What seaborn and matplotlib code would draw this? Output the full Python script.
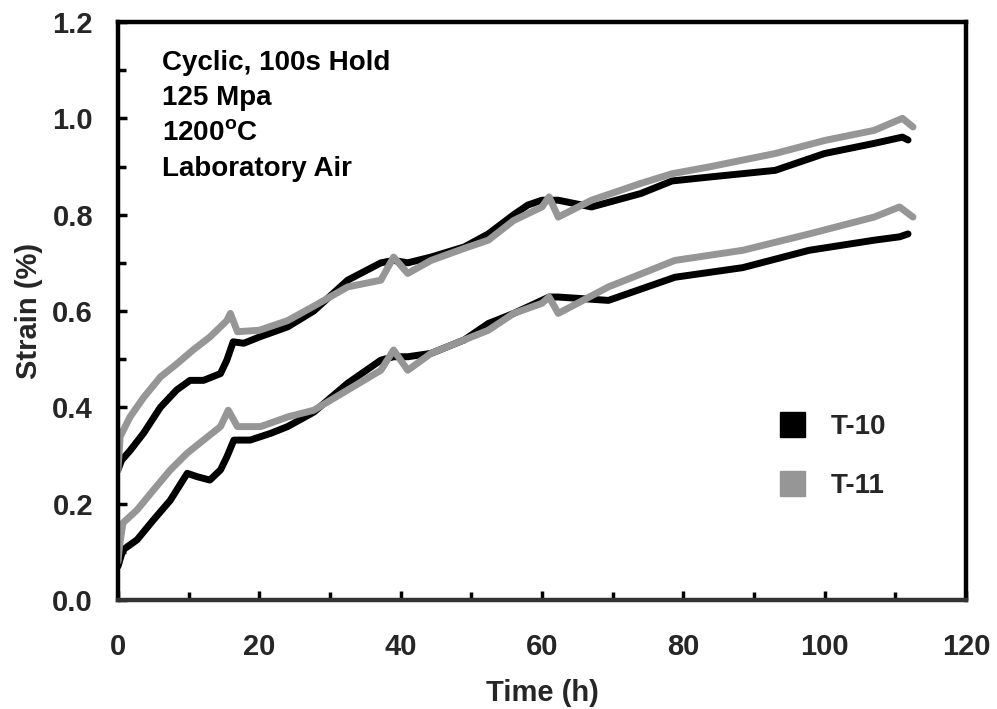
import matplotlib
matplotlib.use("Agg")
import matplotlib.pyplot as plt
import seaborn as sns
import numpy as np
import pandas as pd
from matplotlib.lines import Line2D
from matplotlib.ticker import MultipleLocator

# ---- data ----
t10_up_t = [0, 0.5, 1.7, 3.6, 6, 8.3, 10.2, 12.1, 14.5, 15.4, 16.3, 17.8, 20, 24, 27.7, 32.5,
            37.2, 39, 41, 44.3, 49, 52.4, 56, 58, 60, 62.3, 67, 74, 78.4, 83.6, 93, 100, 107, 111, 111.8]
t10_up_y = [0.27, 0.29, 0.31, 0.346, 0.40, 0.436, 0.456, 0.456, 0.47, 0.498, 0.536, 0.533, 0.546,
            0.567, 0.60, 0.664, 0.70, 0.705, 0.70, 0.712, 0.733, 0.76, 0.80, 0.82, 0.83, 0.83, 0.816,
            0.844, 0.87, 0.878, 0.892, 0.927, 0.948, 0.961, 0.955]

t11_up_t = [0, 0.3, 1.7, 3.6, 6, 8.3, 10.7, 13, 15.4, 15.9, 16.9, 20, 24, 27.7, 32.5, 37.2, 39, 41,
            44.3, 49, 52.4, 56, 60, 61, 62.3, 67, 74, 78.4, 83.6, 93, 100, 107, 111, 112.5]
t11_up_y = [0.27, 0.339, 0.38, 0.42, 0.463, 0.49, 0.52, 0.546, 0.58, 0.595, 0.557, 0.56, 0.58,
            0.61, 0.65, 0.664, 0.712, 0.678, 0.705, 0.73, 0.747, 0.788, 0.816, 0.837, 0.795, 0.83,
            0.865, 0.885, 0.899, 0.927, 0.954, 0.975, 1.0, 0.982]

t10_lo_t = [0, 0.7, 2.7, 5, 7.4, 9.8, 11.2, 13, 14.5, 15.4, 16.4, 18.7, 21.6, 24, 27.7, 32.5, 37.2,
            39, 41, 44.3, 49, 52.4, 56, 61, 62.3, 69.4, 78.8, 88.4, 97.8, 107, 110.6, 111.8]
t10_lo_y = [0.07, 0.104, 0.125, 0.166, 0.207, 0.263, 0.256, 0.249, 0.27, 0.297, 0.332, 0.332, 0.346,
            0.36, 0.39, 0.45, 0.498, 0.505, 0.505, 0.512, 0.54, 0.574, 0.595, 0.629, 0.629, 0.622,
            0.67, 0.69, 0.726, 0.747, 0.754, 0.76]

t11_lo_t = [0, 0.2, 0.7, 2.7, 5, 7.4, 9.8, 12.1, 14.5, 15.6, 16.9, 20.2, 24, 27.7, 32.5, 37.2, 39,
            41, 44.3, 49, 52.4, 56, 60, 61, 62.3, 69.4, 78.8, 88.4, 97.8, 107, 110.6, 112.5]
t11_lo_y = [0.08, 0.11, 0.16, 0.187, 0.228, 0.27, 0.305, 0.332, 0.36, 0.394, 0.36, 0.36, 0.38,
            0.394, 0.436, 0.477, 0.519, 0.477, 0.512, 0.54, 0.56, 0.595, 0.616, 0.629, 0.595, 0.65,
            0.705, 0.726, 0.76, 0.795, 0.816, 0.795]

series_names = ["T-10", "T-11"]
series_colors = ["#000000", "#969696"]
x_ticks = [0, 20, 40, 60, 80, 100, 120]
y_ticks = [0.0, 0.2, 0.4, 0.6, 0.8, 1.0, 1.2]
notes = ["Cyclic, 100s Hold", "125 Mpa", "1200$^\\mathbf{o}$C", "Laboratory Air"]

sns.set_theme(style="white")
plt.rcParams['font.family'] = ['Liberation Sans', 'DejaVu Sans']
plt.rcParams['font.weight'] = 'bold'
plt.rcParams['mathtext.fontset'] = 'custom'
plt.rcParams['mathtext.bf'] = 'Liberation Sans:bold'
plt.rcParams['mathtext.rm'] = 'Liberation Sans:bold'

fig = plt.figure(figsize=(9.97, 7.09), dpi=100)
ax = fig.add_axes([118/997, 1-600/709, (966-118)/997, (600-22)/709])

lw = 5
sns.lineplot(x=t10_up_t, y=t10_up_y, color=series_colors[0], linewidth=lw, ax=ax, estimator=None, sort=False)
sns.lineplot(x=t10_lo_t, y=t10_lo_y, color=series_colors[0], linewidth=lw, ax=ax, estimator=None, sort=False)
sns.lineplot(x=t11_up_t, y=t11_up_y, color=series_colors[1], linewidth=lw, ax=ax, estimator=None, sort=False)
sns.lineplot(x=t11_lo_t, y=t11_lo_y, color=series_colors[1], linewidth=lw, ax=ax, estimator=None, sort=False)

ax.set_xlim(0, 120)
ax.set_ylim(0, 1.2)
ax.set_xticks(x_ticks)
ax.set_yticks(y_ticks)
ax.set_xticklabels([str(v) for v in x_ticks])
ax.set_yticklabels([f"{v:.1f}" for v in y_ticks])
ax.xaxis.set_minor_locator(MultipleLocator(10))
ax.yaxis.set_minor_locator(MultipleLocator(0.1))
ax.tick_params(which='major', direction='in', length=6.5, width=2.5, color='black',
               labelsize=21, bottom=True, left=True)
ax.tick_params(which='minor', direction='in', length=6, width=2.5, color='black',
               bottom=True, left=True)
ax.tick_params(axis='x', which='major', pad=24)
ax.tick_params(axis='y', which='major', pad=18)
for s in ax.spines.values():
    s.set_visible(True)
    s.set_color('black')
    s.set_linewidth(3.2)
ax.spines['bottom'].set_color('#333333')
for lab in ax.get_xticklabels() + ax.get_yticklabels():
    lab.set_fontweight('bold')

ax.set_xlabel("Time (h)", fontsize=21, fontweight='bold', labelpad=13)
ax.set_ylabel("Strain (%)", fontsize=21, fontweight='bold', labelpad=7)

note_y = [0.929, 0.869, 0.807, 0.745]
for txt, yy in zip(notes, note_y):
    ax.text(0.052, yy, txt, transform=ax.transAxes, fontsize=20, fontweight='bold',
            va='center', ha='left', color='black')

handles = [Line2D([], [], marker='s', linestyle='none', markersize=18,
                  markerfacecolor=c, markeredgecolor=c) for c in series_colors]
leg = ax.legend(handles, series_names, loc='upper left', bbox_to_anchor=(0.775, 0.322),
                frameon=False, fontsize=20, borderpad=0, borderaxespad=0,
                labelspacing=1.2, handletextpad=0.8, handlelength=1.2)
for t in leg.get_texts():
    t.set_fontweight('bold')

fig.savefig("out.png", dpi=100)
